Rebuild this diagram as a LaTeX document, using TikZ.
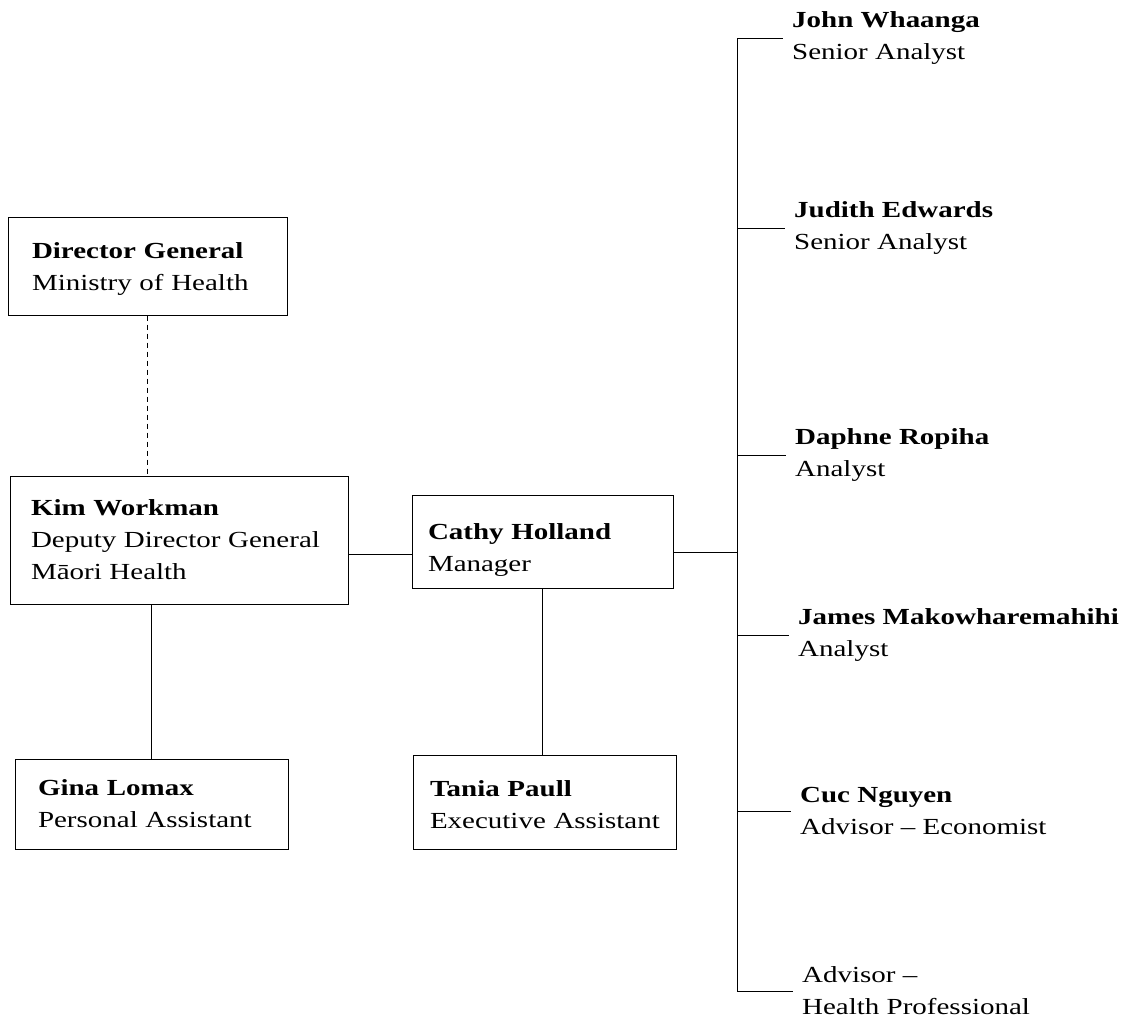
\documentclass[tikz,border=0pt]{standalone}
\usepackage{fontspec}
\setmainfont[FakeStretch=1.26]{Liberation Serif}
\begin{document}
\begin{tikzpicture}[x=1pt,y=-1pt,
  every node/.style={font=\fontsize{23}{32}\selectfont},
  orgbox/.style={draw, line width=1pt, rectangle, align=left, inner ysep=0pt},
  person/.style={align=left, anchor=west, inner xsep=9pt, inner ysep=0pt},
  link/.style={line width=1pt},
  dashlink/.style={line width=1pt, dash pattern=on 5pt off 4pt}]
\fill[white] (0,0) rectangle (1125,1021);
\useasboundingbox (0,0) rectangle (1125,1021);

% boxes
\node[orgbox, minimum width=279pt, minimum height=98pt, inner xsep=24pt, text width=231pt] (DG) at (147.5,266)
  {\mbox{\rule{0pt}{22pt}\textbf{Director General}}\\\mbox{Ministry of Health}};
\node[orgbox, minimum width=338pt, minimum height=128pt, inner xsep=21pt, text width=296pt] (KW) at (179,540)
  {\mbox{\textbf{Kim Workman}}\\\mbox{Deputy Director General}\\\mbox{Māori Health}};
\node[orgbox, minimum width=261pt, minimum height=93pt, inner xsep=16pt, text width=229pt] (CH) at (542.5,541.5)
  {\mbox{\rule{0pt}{32pt}\textbf{Cathy Holland}}\\\mbox{Manager}};
\node[orgbox, minimum width=263pt, minimum height=94pt, inner xsep=17pt, text width=229pt] (TP) at (544.5,802)
  {\mbox{\rule{0pt}{22pt}\textbf{Tania Paull}}\\\mbox{Executive Assistant}};
\node[orgbox, minimum width=273pt, minimum height=90pt, inner xsep=23pt, text width=227pt] (GL) at (151.5,804)
  {\mbox{\textbf{Gina Lomax}}\\\mbox{Personal Assistant}};

% staff on the right
\coordinate (bx) at (737,0);
\node[person] (P1) at (783,38) {\textbf{John Whaanga}\\Senior Analyst};
\node[person] (P2) at (785,228) {\textbf{Judith Edwards}\\Senior Analyst};
\node[person] (P3) at (786,455) {\textbf{Daphne Ropiha}\\Analyst};
\node[person] (P4) at (789,635) {\textbf{James Makowharemahihi}\\Analyst};
\node[person] (P5) at (791,811) {\textbf{Cuc Nguyen}\\Advisor -- Economist};
\node[person] (P6) at (793,991) {Advisor --\\Health Professional};

% connectors
\draw[dashlink] (DG.south) -- (DG.south |- KW.north);
\draw[link] (GL.north) -- (GL.north |- KW.south);
\draw[link] (KW.east |- 0,554) -- (CH.west |- 0,554);
\draw[link] (CH.south) -- (CH.south |- TP.north);
\draw[link] (CH.east |- 0,552) -- (bx |- 0,552);
\draw[link] (bx |- P1.west) -- (bx |- P6.west);
\foreach \p in {P1,P2,P3,P4,P5,P6}
  \draw[link] (bx |- \p.west) -- (\p.west);
\end{tikzpicture}
\end{document}
